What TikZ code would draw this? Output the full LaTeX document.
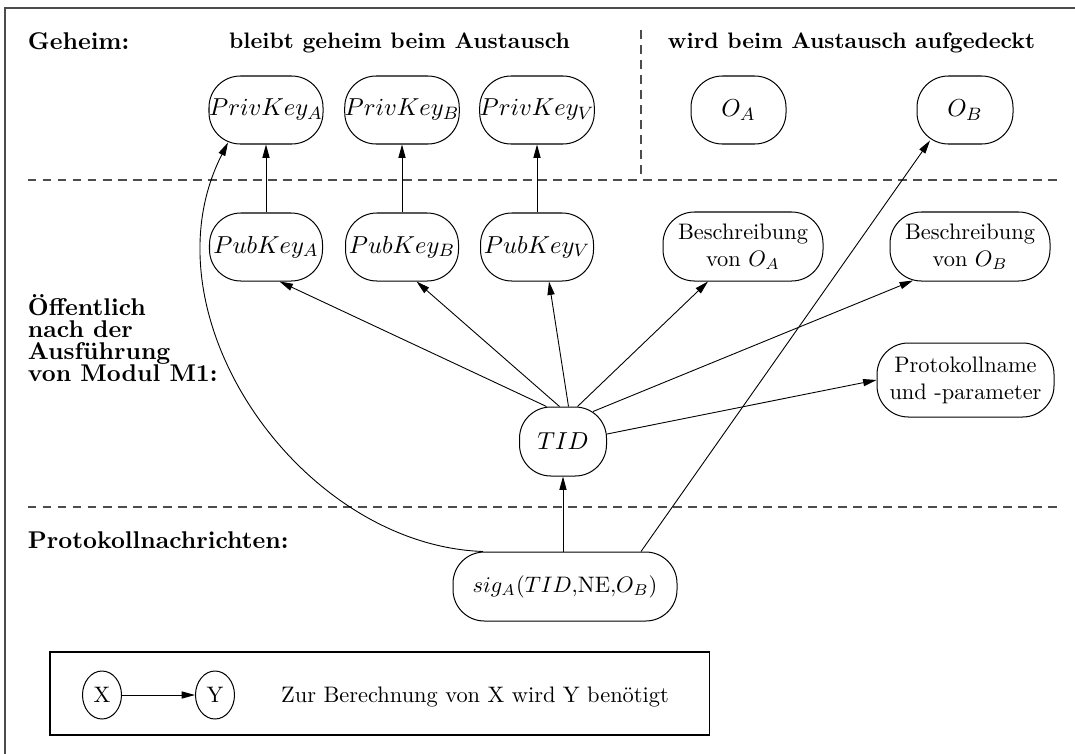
\documentclass[tikz,border=0pt]{standalone}
\usetikzlibrary{arrows.meta,calc,shapes.geometric}
\newcommand\pxu{0.4464pt}
\begin{document}
\begin{tikzpicture}[x=0.4464pt,y=-0.4464pt,
  box/.style={draw, rounded corners=14pt, inner sep=0pt, line width=0.45pt,
              minimum height=68*\pxu, align=center},
  mtxt/.style={font=\fontsize{10.8}{13}\selectfont},
  arr/.style={-{Triangle[length=6pt,width=3.2pt]}, line width=0.4pt},
  sep/.style={dash pattern=on 4pt off 2.7pt, line width=0.5pt, black!70},
  lbl/.style={font=\fontsize{10.8}{12}\selectfont\bfseries, anchor=base west, inner sep=0pt},
  head/.style={font=\bfseries, anchor=base, inner sep=0pt},
  frame/.style={draw=black!70, line width=1pt}]
\useasboundingbox (0,0) rectangle (1075,753);
\clip (0,0) rectangle (1075,753);
\fill[white] (0,0) rectangle (1075,753);
\draw[frame] (5,8) rectangle (1095,775);

% section labels and separators
\node[lbl] (geheim) at (27.5,49) {Geheim:};
\node[head] (hsecret) at (399.5,48) {bleibt geheim beim Austausch};
\node[head] (hopen) at (851.5,48) {wird beim Austausch aufgedeckt};
\node[lbl] (oeff1) at (27.5,315) {Öffentlich};
\node[lbl] (oeff2) at (27.5,337) {nach der};
\node[lbl] (oeff3) at (27.5,359) {Ausführung};
\node[lbl] (oeff4) at (27.5,381) {von Modul M1:};
\node[lbl] (proto) at (27.5,548) {Protokollnachrichten:};
\coordinate (s1l) at (27.5,180);
\coordinate (s1r) at (1058.5,180);
\coordinate (s2l) at (27.5,507);
\coordinate (s2r) at (1058.5,507);
\coordinate (vtop) at (641,30);
\coordinate (vbot) at (641,180);
\draw[sep] (s1l) -- (s1r);
\draw[sep] (s2l) -- (s2r);
\draw[sep] (vtop) -- (vbot);

% secret values
\node[box, mtxt, minimum width=114*\pxu] (privA) at (266,110) {$PrivKey_A$};
\node[box, mtxt, minimum width=114*\pxu] (privB) at (402,110) {$PrivKey_B$};
\node[box, mtxt, minimum width=114*\pxu] (privV) at (537,110) {$PrivKey_V$};
\node[box, mtxt, minimum width=95*\pxu] (oA) at (738.5,110) {$O_A$};
\node[box, mtxt, minimum width=96*\pxu] (oB) at (965,110) {$O_B$};

% public values
\node[box, mtxt, minimum width=113*\pxu] (pubA) at (266,247) {$PubKey_A$};
\node[box, mtxt, minimum width=113*\pxu] (pubB) at (402,247) {$PubKey_B$};
\node[box, mtxt, minimum width=113*\pxu] (pubV) at (537,247) {$PubKey_V$};
\node[box, minimum width=160*\pxu, minimum height=69*\pxu] (descA) at (743,246.5) {Beschreibung\\von $O_A$};
\node[box, minimum width=160*\pxu, minimum height=69*\pxu] (descB) at (970,246.5) {Beschreibung\\von $O_B$};
\node[box, minimum width=177*\pxu, minimum height=74*\pxu] (pname) at (965.5,380) {Protokollname\\und -parameter};
\node[box, mtxt, minimum width=87*\pxu, minimum height=69*\pxu] (tid) at (563,441.5) {$TID$};

% protocol message
\node[box, font=\fontsize{10.4}{12}\selectfont, minimum width=224*\pxu, minimum height=69*\pxu] (sig) at (565,586.5) {$sig_A(TID{,}\mathrm{NE}{,}O_B)$};

% dependencies
\draw[arr] (pubA.north) -- (privA.south);
\draw[arr] (pubB.north) -- (privB.south);
\draw[arr] (pubV.north) -- (privV.south);
\draw[arr] ($(tid.north)+(-16.5,0)$) -- ($(pubA.south)+(13.5,0)$);
\draw[arr] ($(tid.north)+(-3.5,0)$) -- ($(pubB.south)+(14.5,0)$);
\draw[arr] ($(tid.north)+(5.5,0)$) -- ($(pubV.south)+(12,0)$);
\draw[arr] ($(tid.north)+(14.5,0)$) -- ($(descA.south)+(-35,0)$);
\draw[arr] ($(tid.north east)+(-14,5)$) -- ($(descB.south)+(-57,-1)$);
\draw[arr] ($(tid.east)+(0,-7.5)$) -- (pname.west);
\draw[arr] (sig.north -| tid.south) -- (tid.south);
\draw[arr] ($(sig.north)+(76,0)$) -- ($(oB.south)+(-35,-4)$);
\draw[arr] ($(sig.north)+(-82,0)$) .. controls (300,545) and (140,315) .. ($(privA.south)+(-38,-2)$);

% legend
\node[draw, line width=0.7pt, minimum width=659.5*\pxu, minimum height=83*\pxu, inner sep=0pt] (legend) at (379.75,693.5) {};
\node[ellipse, draw, line width=0.45pt, minimum width=39*\pxu, minimum height=48*\pxu, inner sep=0pt] (lx) at (102,695) {X};
\node[ellipse, draw, line width=0.45pt, minimum width=39*\pxu, minimum height=48*\pxu, inner sep=0pt] (ly) at (215,695) {Y};
\draw[arr] (lx) -- (ly);
\node[anchor=base, inner sep=0pt] (ltext) at (475,702) {Zur Berechnung von X wird Y benötigt};
\end{tikzpicture}
\end{document}
